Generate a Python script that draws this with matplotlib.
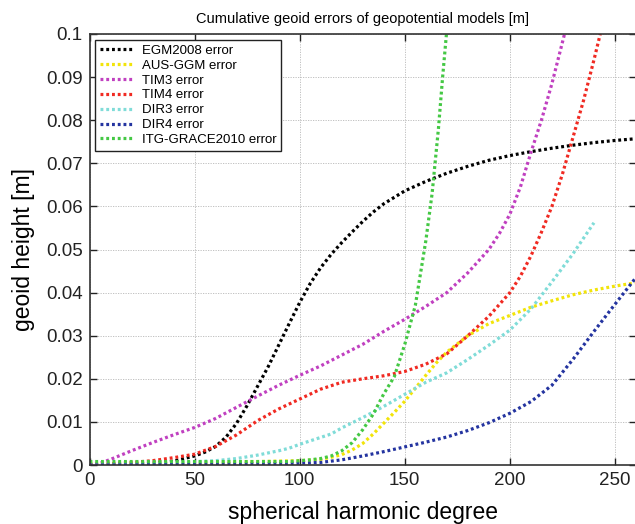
import matplotlib
matplotlib.use("Agg")
import matplotlib.pyplot as plt
from matplotlib.ticker import FixedLocator, FuncFormatter

plt.rcParams['font.family'] = ['Liberation Sans', 'DejaVu Sans']

# ---- data ----
egm_deg = [0, 10, 20, 30, 40, 50, 55, 60, 65, 70, 75, 80, 85, 90, 95, 100, 105, 110, 115, 120,
           125, 130, 135, 140, 150, 160, 170, 180, 190, 200, 210, 220, 230, 240, 250, 260]
egm_val = [0, 0.0001, 0.0002, 0.0004, 0.0009, 0.0021, 0.003, 0.0043, 0.0065, 0.0097, 0.0138,
           0.0183, 0.0228, 0.0278, 0.0328, 0.0377, 0.0421, 0.0458, 0.0489, 0.0516, 0.0541,
           0.0565, 0.0587, 0.0606, 0.0636, 0.0658, 0.0677, 0.0693, 0.0707, 0.0718, 0.0727,
           0.0735, 0.0742, 0.0748, 0.0753, 0.0757]

aus_deg = [0, 50, 100, 110, 115, 120, 125, 130, 135, 140, 145, 150, 155, 160, 165, 170, 180,
           190, 200, 210, 220, 230, 240, 250, 260]
aus_val = [0.0004, 0.0005, 0.001, 0.0013, 0.0018, 0.0024, 0.0035, 0.005, 0.0072, 0.0097,
           0.0122, 0.0148, 0.0178, 0.0208, 0.0237, 0.0262, 0.0300, 0.0328, 0.0347, 0.0366,
           0.0381, 0.0395, 0.0406, 0.0415, 0.0423]

tim3_deg = [0, 5, 10, 20, 30, 40, 50, 60, 70, 80, 90, 100, 110, 120, 130, 140, 150, 160, 170,
            180, 190, 195, 200, 205, 210, 215, 220, 226]
tim3_val = [0.0, 0.0004, 0.0013, 0.0033, 0.0052, 0.007, 0.0087, 0.0108, 0.0134, 0.016, 0.0185,
            0.0208, 0.023, 0.0255, 0.028, 0.031, 0.0338, 0.0368, 0.040, 0.0446, 0.050,
            0.0537, 0.0582, 0.0645, 0.0725, 0.080, 0.0885, 0.1]

tim4_deg = [0, 10, 20, 30, 40, 50, 60, 70, 80, 90, 100, 110, 120, 130, 140, 150, 160, 170,
            180, 190, 200, 205, 210, 215, 220, 225, 230, 235, 240, 243]
tim4_val = [0.0, 0.0003, 0.0006, 0.001, 0.0017, 0.0025, 0.0043, 0.007, 0.0103, 0.013, 0.0153,
            0.0176, 0.0192, 0.0200, 0.0207, 0.0217, 0.0234, 0.0258, 0.030, 0.0345, 0.040,
            0.0438, 0.0485, 0.054, 0.060, 0.0675, 0.076, 0.0845, 0.094, 0.1]

dir3_deg = [0, 20, 40, 60, 70, 80, 90, 95, 100, 110, 115, 120, 130, 140, 150, 160, 170, 180,
            190, 200, 210, 220, 230, 240]
dir3_val = [0.0, 0.0002, 0.0005, 0.001, 0.0015, 0.0023, 0.0033, 0.0039, 0.0048, 0.0064,
            0.0072, 0.0086, 0.011, 0.0136, 0.0164, 0.0192, 0.0214, 0.0245, 0.0278, 0.0313,
            0.0362, 0.0425, 0.049, 0.0562]

dir4_deg = [0, 50, 100, 110, 120, 130, 140, 150, 160, 170, 180, 190, 200, 210, 220, 230, 240,
            250, 260]
dir4_val = [0.0, 0.0001, 0.0004, 0.0006, 0.0012, 0.0021, 0.0031, 0.0042, 0.0053, 0.0065,
            0.008, 0.0098, 0.012, 0.0147, 0.0185, 0.0245, 0.031, 0.0373, 0.0435]

itg_deg = [0, 50, 95, 100, 105, 110, 115, 120, 125, 130, 135, 140, 145, 150, 155, 160, 163,
           166, 168, 170]
itg_val = [0.0008, 0.0008, 0.0008, 0.001, 0.0012, 0.0015, 0.0021, 0.0033, 0.0052, 0.0082,
           0.0118, 0.0165, 0.0205, 0.028, 0.037, 0.052, 0.063, 0.078, 0.090, 0.101]

labels = ['EGM2008 error', 'AUS-GGM error', 'TIM3 error', 'TIM4 error', 'DIR3 error',
          'DIR4 error', 'ITG-GRACE2010 error']
colors = ['#000000', '#f2e40a', '#c040c0', '#f02a22', '#80dcd8', '#2434a0', '#44c844']

x_ticks = [0, 50, 100, 150, 200, 250]
y_ticks = [0, 0.01, 0.02, 0.03, 0.04, 0.05, 0.06, 0.07, 0.08, 0.09, 0.1]

series = [(egm_deg, egm_val), (aus_deg, aus_val), (tim3_deg, tim3_val), (tim4_deg, tim4_val),
          (dir3_deg, dir3_val), (dir4_deg, dir4_val), (itg_deg, itg_val)]

# ---- figure ----
W, H = 635, 524
fig = plt.figure(figsize=(W / 100, H / 100), dpi=100)
ax = fig.add_axes([89.5 / W, (H - 465) / H, (636 - 89.5) / W, (465 - 34) / H])

for (d, v), lab, c in zip(series, labels, colors):
    ax.plot(d, v, color=c, lw=2.3, linestyle=(0, (0.9, 0.9)), dash_capstyle='butt',
            label=lab, clip_on=True)

ax.set_xlim(0, 260)
ax.set_ylim(0, 0.1)
ax.xaxis.set_major_locator(FixedLocator(x_ticks))
ax.yaxis.set_major_locator(FixedLocator(y_ticks))
ax.yaxis.set_major_formatter(FuncFormatter(lambda v, p: '0' if v == 0 else ('%g' % round(v, 3))))
ax.grid(True, color='#b8b8b8', linestyle=(0, (1.5, 1.5)), linewidth=0.6)
ax.tick_params(direction='in', length=5, width=1, top=True, right=True, labelsize=13.5,
               colors='#222222', pad=5)
for s in ax.spines.values():
    s.set_linewidth(1.2)
    s.set_color('#333333')

ax.set_title('Cumulative geoid errors of geopotential models [m]', fontsize=10.5, pad=8)
ax.set_xlabel('spherical harmonic degree', fontsize=16.5, labelpad=9)
ax.set_ylabel('geoid height [m]', fontsize=16.5, labelpad=8)

leg = ax.legend(loc='upper left', fontsize=9.5, handlelength=2.5, handletextpad=0.65,
                labelspacing=0.2, borderaxespad=0.45, borderpad=0.35, fancybox=False,
                framealpha=1, edgecolor='#222222')
leg.get_frame().set_linewidth(1.0)

fig.savefig('out.png', dpi=100)
